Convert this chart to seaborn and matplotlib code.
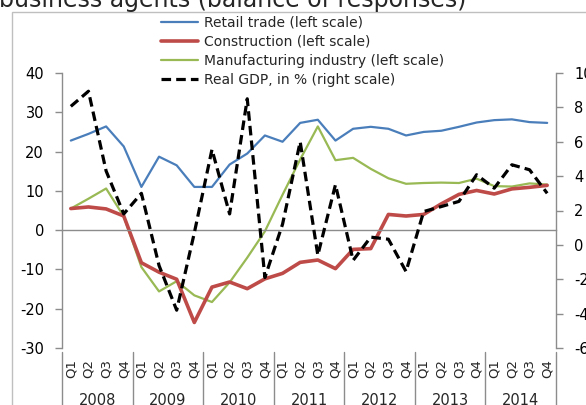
import numpy as np
import pandas as pd
import matplotlib
matplotlib.use("Agg")
import matplotlib.pyplot as plt
from matplotlib.lines import Line2D
from matplotlib.patches import Rectangle
import seaborn as sns

title = "business agents (balance of responses)"
years = ["2008", "2009", "2010", "2011", "2012", "2013", "2014"]
quarter_names = ["Q1", "Q2", "Q3", "Q4"]
quarters = quarter_names * len(years)

retail = [22.8, 24.5, 26.4, 21.3, 11.0, 18.7, 16.5, 11.0, 11.0, 16.7, 19.5, 24.1, 22.5, 27.3,
          28.1, 22.8, 25.8, 26.3, 25.8, 24.1, 25.0, 25.3, 26.3, 27.4, 28.0, 28.2, 27.5, 27.3]
construction = [5.5, 5.9, 5.4, 3.6, -8.3, -10.7, -12.5, -23.5, -14.5, -13.2, -14.9, -12.4, -11.0, -8.2,
                -7.6, -9.8, -4.9, -4.7, 4.0, 3.6, 4.0, 6.7, 9.1, 10.1, 9.2, 10.5, 10.9, 11.4]
manufacturing = [5.5, 8.0, 10.6, 3.5, -9.4, -15.6, -13.0, -16.6, -18.3, -13.3, -7.0, -0.3, 9.0, 18.0,
                 26.4, 17.8, 18.4, 15.6, 13.2, 11.8, 12.0, 12.1, 12.0, 13.1, 11.2, 11.1, 11.9, 11.6]
gdp = [8.06, 8.94, 4.3, 1.8, 3.0, -1.2, -3.8, 0.7, 5.55, 1.8, 8.5, -1.9, 1.2, 6.0,
       -0.6, 3.5, -0.9, 0.45, 0.33, -1.55, 1.94, 2.23, 2.53, 4.08, 3.3, 4.66, 4.37, 3.0]

labels = ["Retail trade (left scale)", "Construction (left scale)",
          "Manufacturing industry (left scale)", "Real GDP, in % (right scale)"]

df = pd.DataFrame({"idx": np.arange(len(quarters)), "retail": retail,
                   "construction": construction, "manufacturing": manufacturing, "gdp": gdp})

sns.set_theme(style="white")
plt.rcParams["font.family"] = ["DejaVu Sans"]
plt.rcParams["axes.unicode_minus"] = False

W, H = 586, 405
fig = plt.figure(figsize=(W / 100, H / 100), dpi=100)
ax = fig.add_axes([62 / W, (H - 348) / H, 494 / W, 275 / H])

c_blue, c_red, c_green = "#4A7EBB", "#BE4B48", "#98B954"
gray = "#8C8C8C"

sns.lineplot(data=df, x="idx", y="retail", ax=ax, color=c_blue, lw=1.6)
sns.lineplot(data=df, x="idx", y="manufacturing", ax=ax, color=c_green, lw=1.6)
sns.lineplot(data=df, x="idx", y="construction", ax=ax, color=c_red, lw=2.6)
ax2 = ax.twinx()
sns.lineplot(data=df, x="idx", y="gdp", ax=ax2, color="black", lw=2.3, linestyle=(0, (3, 1.6)))

ax.set_xlim(-0.5, len(quarters) - 0.5)
ax.set_ylim(-30, 40)
ax2.set_ylim(-6, 10)
ax.set_yticks(np.arange(-30, 41, 10))
ax2.set_yticks(np.arange(-6, 11, 2))
for a in (ax, ax2):
    a.set_xlabel("")
    a.set_ylabel("")
    a.set_facecolor("none")

ax.spines["top"].set_visible(False)
ax.spines["right"].set_visible(False)
ax.spines["bottom"].set_position(("data", 0))
for s in ("left", "bottom"):
    ax.spines[s].set_color(gray)
    ax.spines[s].set_linewidth(1)
ax2.spines["top"].set_visible(False)
ax2.spines["bottom"].set_visible(False)
ax2.spines["left"].set_visible(False)
ax2.spines["right"].set_color(gray)
ax2.spines["right"].set_linewidth(1)

ax.set_xticks(np.arange(-0.5, len(quarters), 1))
ax.set_xticklabels([])
ax.tick_params(axis="x", direction="out", length=5, color=gray, width=1)
ax.tick_params(axis="y", direction="out", length=5, color=gray, width=1, labelsize=10.5, pad=8,
               left=True, labelcolor="black")
ax2.tick_params(axis="y", direction="out", length=5, color=gray, width=1, labelsize=10.5, pad=8,
                right=True, labelcolor="black")

# category labels
tr = ax.get_xaxis_transform()
for i, q in enumerate(quarters):
    ax.text(i, -0.075, q, rotation=90, ha="center", va="center", fontsize=9.5, transform=tr)
for k, y in enumerate(years):
    ax.text(k * 4 + 1.5, -0.19, y, ha="center", va="center", fontsize=10.5, transform=tr, clip_on=False)
for k in range(len(years) + 1):
    ax.plot([k * 4 - 0.5, k * 4 - 0.5], [-0.015, -0.3], transform=tr, color=gray, lw=1, clip_on=False)

# legend
handles = [Line2D([], [], color=c_blue, lw=1.6), Line2D([], [], color=c_red, lw=2.6),
           Line2D([], [], color=c_green, lw=1.6),
           Line2D([], [], color="black", lw=2.3, linestyle=(0, (3, 1.6)))]
fig.legend(handles, labels, loc="upper left", bbox_to_anchor=(155 / W, 1 - 10 / H), frameon=False,
           fontsize=10, handlelength=2.7, handletextpad=0.4, labelspacing=0.36, borderaxespad=0)

# outer frame and title
fig.patches.append(Rectangle((12 / W, -0.1), 1.2, 1 - 12 / H + 0.1, transform=fig.transFigure,
                             fill=False, edgecolor="#BFBFBF", lw=1))
fig.text(-0.002, 1 - 7 / H, title, fontsize=17, ha="left", va="baseline")

fig.savefig("out.png", dpi=100)
